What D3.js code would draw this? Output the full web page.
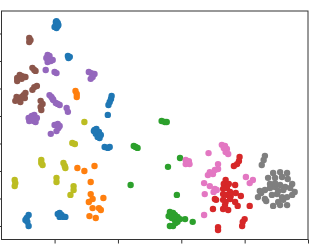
<!DOCTYPE html>
<html><head><meta charset="utf-8">
<script src="https://cdn.jsdelivr.net/npm/d3@7"></script>
<style>html,body{margin:0;padding:0;background:#fff;overflow:hidden}svg{display:block}</style>
</head><body><svg id="chart" width="336" height="244"></svg>
<script>
// ---- data (embedding coordinates) ----
const xTicks = [0, 10, 20, 30, 40];
const yTicks = [0, 10, 20, 30, 40, 50, 60, 70];
const xDomain = [-8.38, 40];
const yDomain = [-4.91, 78.18];

const class0 = [[0.2,74.2],[0.3,74.5],[0.5,73.8],[0.2,73.1],[0.5,72.7],[0.3,72.0],[0.0,72.4],[0.6,73.1],
  [2.1,61.8],[2.4,61.5],[2.2,61.1],
  [9.0,47.3],[8.9,46.2],[8.7,45.1],[8.5,44.0],[8.4,40.4],
  [6.2,34.5],[6.6,35.3],[7.0,34.2],[6.5,33.5],[6.8,32.4],[7.1,32.0],[7.3,33.1],[6.3,34.9],
  [7.9,28.7],[8.4,28.4],[8.7,28.7],
  [-4.1,4.0],[-4.4,2.9],[-4.6,2.2],[-4.3,1.5],[-4.1,0.0],
  [0.5,4.4],[0.8,4.7],[1.1,4.0],[1.4,3.3],[1.7,3.3],[0.8,3.3]];
const class1 = [[3.3,49.1],[3.5,48.0],[3.5,46.9],
  [3.6,21.1],[4.7,20.0],[6.3,21.8],[5.7,16.0],
  [5.7,11.6],[6.0,9.8],[5.4,8.7],[7.7,10.2],
  [6.0,6.5],[7.0,6.5],[7.3,5.8],[5.5,3.6],[6.5,2.9]];
const class2 = [[16.9,38.2],[17.4,37.8],[17.7,37.8],
  [12.5,29.1],[12.8,28.7],[13.1,28.4],
  [12.0,14.9],[19.8,24.7],[17.9,21.5],[19.3,11.3],
  [18.2,5.1],[18.7,4.7],[19.0,4.0],[19.4,3.3],[18.5,2.9],[19.0,2.2],[19.4,1.5],[18.2,0.0],
  [18.7,0.0],[19.1,1.1],[20.6,2.5],[21.8,1.5],[18.0,3.6],[19.8,2.5]];
const class3 = [[29.2,25.1],[29.1,23.6],[28.8,22.5],[28.3,21.8],
  [27.0,16.7],[26.7,15.3],[27.5,15.3],[28.5,14.9],[27.2,13.8],[26.6,13.5],[27.7,12.4],[28.6,12.0],
  [29.4,10.9],[26.6,11.6],[27.2,11.3],[27.8,10.9],[25.5,9.5],[26.6,9.5],[27.0,8.7],[28.5,8.7],
  [28.9,7.3],[30.8,7.3],[25.0,6.2],[26.6,6.2],[27.4,5.8],[26.9,7.6],[27.7,9.8],[25.3,9.8],
  [30.0,2.5],[29.7,1.5],[29.6,0.0],[25.8,-0.4],[25.8,-1.5]];
const class4 = [[-1.1,62.2],[-0.8,61.8],[-1.3,61.1],[-0.9,60.4],[-0.6,60.0],[-0.3,60.4],[-1.1,59.6],
  [-1.4,56.7],[0.0,56.0],[0.3,55.6],
  [5.4,56.0],[5.8,55.6],[6.3,55.3],[6.0,54.2],[5.7,53.5],
  [-0.8,47.6],[-0.5,46.9],[-0.2,45.8],[0.2,44.7],[0.5,44.4],[0.8,44.0],[-0.3,46.2],
  [1.9,42.9],[2.1,41.5],
  [-4.1,39.3],[-3.6,40.0],[-3.2,40.4],[-2.8,39.3],[-3.3,38.2],[-4.0,38.2],[-3.0,37.8],[-3.5,38.9],
  [0.0,36.7],[0.5,37.1],[0.6,35.6],[0.3,34.5],[-0.6,33.5],[0.8,36.4]];
const class5 = [[-4.0,68.4],[-3.8,67.6],[-4.0,66.9],
  [-3.5,57.5],[-3.2,56.7],[-3.0,56.4],
  [-5.9,53.8],[-5.5,54.9],[-5.1,54.5],[-4.6,54.2],[-5.9,52.7],[-5.2,53.5],
  [-3.5,49.5],[-3.2,50.5],[-2.8,50.9],
  [-6.0,46.9],[-5.7,45.8],[-5.4,45.1],[-6.2,45.5],[-4.9,47.6],[-4.6,48.4],[-4.7,46.5],[-5.2,46.9],
  [-2.2,45.5],[-1.9,44.4],[-2.2,43.3],[-2.1,42.2]];
const class6 = [[20.7,24.0],[21.2,23.6],[20.7,22.5],[21.3,22.5],[21.0,23.3],
  [24.3,26.5],
  [26.4,29.5],[26.9,29.1],[27.2,28.0],[27.0,26.9],[27.4,26.2],[26.7,28.4],
  [25.8,22.5],[25.8,20.7],[24.5,19.6],[24.2,18.5],[25.0,18.9],[25.3,20.4],
  [23.6,15.6],[24.5,14.5],[25.3,13.5],[25.6,13.1],[23.7,11.6],[25.1,12.4],
  [23.6,4.0],
  [30.2,17.8],[31.3,16.7],[30.8,15.6]];
const class7 = [[33.2,25.5],[33.0,24.0],[32.7,22.2],
  [34.5,19.3],[35.6,19.6],[36.7,19.3],[33.7,17.5],[34.8,17.5],[35.9,17.8],[36.8,17.1],[37.5,15.3],
  [32.4,12.7],[33.2,13.1],[34.0,13.8],[34.8,14.2],[35.6,14.9],[36.4,14.2],[37.2,13.8],[37.9,12.4],
  [32.1,10.5],[33.2,9.8],[34.3,11.3],[35.1,11.6],[35.9,10.5],[36.7,10.5],[37.5,11.3],
  [34.5,7.3],[35.6,7.6],[36.7,7.6],[35.3,8.7],[36.1,9.5],[32.6,12.0],[34.0,15.3],[34.8,15.6],
  [33.4,9.1],[36.1,13.1],[35.3,12.7]];
const class8 = [[4.7,37.8],
  [-2.1,24.0],[-2.1,22.9],[-1.9,22.2],
  [2.8,30.2],[3.2,29.8],
  [1.4,22.9],[1.6,21.8],[1.7,21.1],
  [-6.3,16.7],[-6.2,15.6],[-6.3,14.5],
  [0.3,17.5],[0.3,16.0],
  [3.0,14.5],[3.0,13.1],[2.5,11.3]];

const series = [class0, class1, class2, class3, class4, class5, class6, class7, class8];
const colors = ["#1f77b4","#ff7f0e","#2ca02c","#d62728","#9467bd","#8c564b","#e377c2","#7f7f7f","#bcbd22"];

// ---- drawing ----
const W = 336, H = 244;
const plot = {left: 1.5, right: 308, top: 11, bottom: 239.5};
const svg = d3.select("#chart");
const x = d3.scaleLinear().domain(xDomain).range([plot.left, plot.right]);
const y = d3.scaleLinear().domain(yDomain).range([plot.bottom, plot.top]);

const g = svg.append("g");
series.forEach((pts, i) => {
  g.append("g").selectAll("circle").data(pts).join("circle")
    .attr("cx", d => x(d[0])).attr("cy", d => y(d[1]))
    .attr("r", 3.2).attr("fill", colors[i]);
});

const xAxis = svg.append("g").attr("transform", `translate(0,${plot.bottom})`)
  .call(d3.axisBottom(x).tickValues(xTicks).tickSize(4).tickFormat(""));
const yAxis = svg.append("g").attr("transform", `translate(${plot.left},0)`)
  .call(d3.axisLeft(y).tickValues(yTicks).tickSize(4).tickFormat(""));
[xAxis, yAxis].forEach(a => {
  a.select(".domain").remove();
  a.selectAll("line").attr("stroke", "#333").attr("stroke-width", 1);
});
svg.append("rect").attr("x", plot.left).attr("y", plot.top)
  .attr("width", plot.right - plot.left).attr("height", plot.bottom - plot.top)
  .attr("fill", "none").attr("stroke", "#333").attr("stroke-width", 1);
</script></body></html>
